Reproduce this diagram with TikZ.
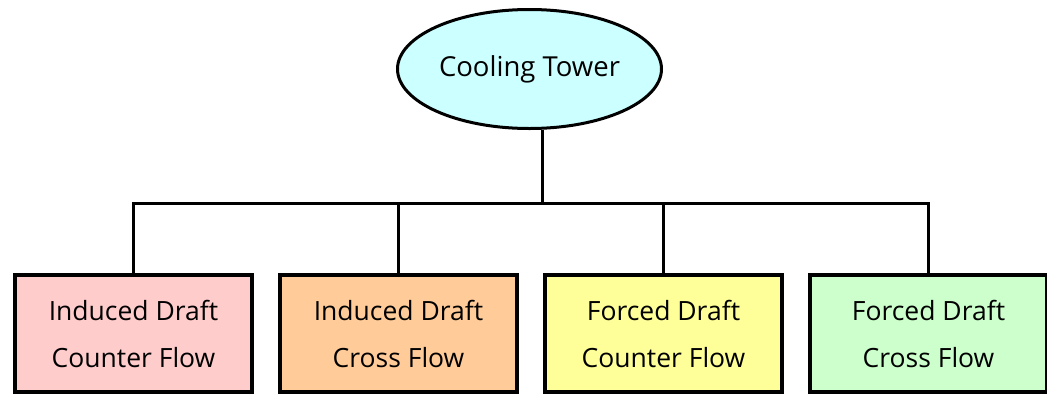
\documentclass[tikz,border=0pt]{standalone}
\usepackage{fontspec}
\setmainfont{Open Sans}
\usepackage{xcolor}
\usetikzlibrary{shapes,positioning}

\definecolor{towerfill}{HTML}{CCFFFF}
\definecolor{pinkfill}{HTML}{FFCCCC}
\definecolor{orangefill}{HTML}{FFCC99}
\definecolor{yellowfill}{HTML}{FFFF99}
\definecolor{greenfill}{HTML}{CCFFCC}

\begin{document}
\begin{tikzpicture}[x=1pt, y=-1pt, node distance=24pt,
        kind/.style={draw, rectangle, line width=4pt, minimum width=237pt, minimum height=117pt, align=center, font=\fontsize{26.5}{47}\selectfont},
        tower/.style={draw, ellipse, line width=3pt, fill=towerfill, minimum width=264pt, minimum height=119pt, inner sep=0pt, font=\fontsize{27.5}{32}\selectfont},
        link/.style={line width=3pt}
    ]
        \useasboundingbox (0,0) rectangle (1047,397);
        \node [tower] (ct) at (529.5,69) {Cooling Tower};
        \node [kind, fill=pinkfill] (idcf) at (133.5,333.5) {Induced Draft\\Counter Flow};
        \node [kind, fill=orangefill, right=of idcf] (idxf) {Induced Draft\\Cross Flow};
        \node [kind, fill=yellowfill, right=of idxf] (fdcf) {Forced Draft\\Counter Flow};
        \node [kind, fill=greenfill, right=of fdcf] (fdxf) {Forced Draft\\Cross Flow};
        \coordinate (bus) at (542,203);

        \draw [link] (ct.south -| bus) -- (bus);
        \draw [link] (idcf.north) -- (idcf.north |- bus) -- (fdxf.north |- bus) -- (fdxf.north);
        \draw [link] (idxf.north) -- (idxf.north |- bus);
        \draw [link] (fdcf.north) -- (fdcf.north |- bus);
    \end{tikzpicture}
\end{document}
